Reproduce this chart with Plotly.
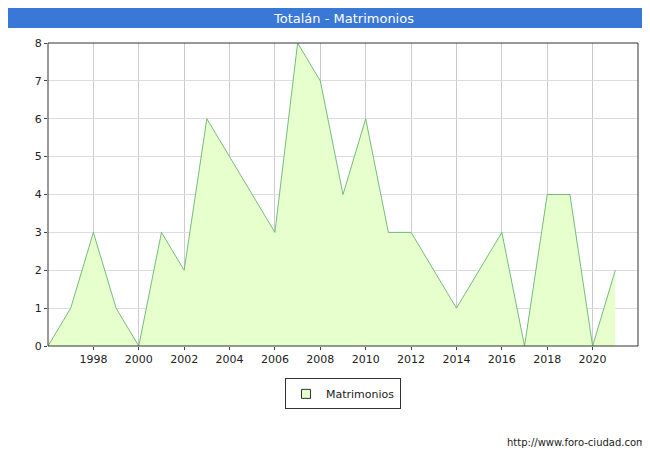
import plotly.graph_objects as go

years = list(range(1996, 2022))
matrimonios = [0, 1, 3, 1, 0, 3, 2, 6, 5, 4, 3, 8, 7, 4, 6, 3, 3, 2, 1, 2, 3, 0, 4, 4, 0, 2]
tick_years = list(range(1998, 2021, 2))

fig = go.Figure()
fig.add_trace(go.Scatter(
    x=years, y=matrimonios, mode="lines", showlegend=False,
    fill="tozeroy", fillcolor="#e6ffcc",
    line=dict(color="#55aa66", width=0.8),
))
# legend entry only: square swatch
fig.add_trace(go.Scatter(
    x=[None], y=[None], mode="markers", name="Matrimonios",
    marker=dict(symbol="square", size=9, color="#e6ffcc", line=dict(color="#333", width=1)),
))

fig.update_layout(
    width=650, height=450,
    paper_bgcolor="white", plot_bgcolor="white",
    margin=dict(l=40, r=20, t=35, b=112, autoexpand=False),
    font=dict(family="DejaVu Sans", size=11, color="#222"),
    showlegend=True,
    legend=dict(orientation="h", x=0.5, xanchor="center", y=-0.158, yanchor="middle",
                bordercolor="#333", borderwidth=1, font=dict(size=11),
                itemwidth=30, tracegroupgap=0),
    shapes=[
        dict(type="rect", xref="paper", yref="paper", x0=-0.0678, x1=1.034, y0=1.0495, y1=1.1155,
             fillcolor="#3a78d8", line=dict(width=0), layer="below"),
        dict(type="rect", xref="paper", yref="paper", x0=0, x1=1, y0=0, y1=1,
             line=dict(color="#333", width=1)),
    ],
    annotations=[
        dict(text="Totalán - Matrimonios", xref="paper", yref="paper", x=0.5, y=1.0825,
             yanchor="middle", showarrow=False, font=dict(color="white", size=13)),
        dict(text="http://www.foro-ciudad.com", xref="paper", yref="paper", x=1.017, y=-0.317,
             xanchor="right", yanchor="middle", showarrow=False, font=dict(size=10)),
    ],
)
fig.update_xaxes(range=[1996, 2022], tickvals=tick_years, showgrid=True, gridcolor="#cccccc",
                 zeroline=False, ticks="outside", ticklen=3)
fig.update_yaxes(range=[0, 8], dtick=1, showgrid=True, gridcolor="#dddddd", zeroline=False,
                 ticks="outside", ticklen=3)

fig.write_html("out.html")
